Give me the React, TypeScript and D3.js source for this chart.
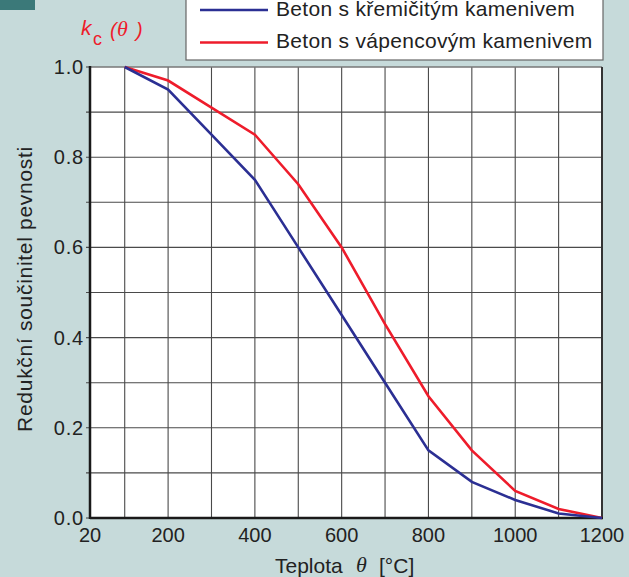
import React from "react";
import * as d3 from "d3";

const temperatures = [100, 200, 300, 400, 500, 600, 700, 800, 900, 1000, 1100, 1200];
const siliceous = [1.0, 0.95, 0.85, 0.75, 0.6, 0.45, 0.3, 0.15, 0.08, 0.04, 0.01, 0.0];
const calcareous = [1.0, 0.97, 0.91, 0.85, 0.74, 0.6, 0.43, 0.27, 0.15, 0.06, 0.02, 0.0];
const xTickLabels = [20, 200, 400, 600, 800, 1000, 1200];
const xGrid = [100, 200, 300, 400, 500, 600, 700, 800, 900, 1000, 1100];
const yTickLabels = [0, 0.2, 0.4, 0.6, 0.8, 1.0];
const yGrid = [0.1, 0.2, 0.3, 0.4, 0.5, 0.6, 0.7, 0.8, 0.9];
const seriesNames = ["Beton s křemičitým kamenivem", "Beton s vápencovým kamenivem"];

const W = 629;
const H = 577;
const left = 90;
const right = 602;
const top = 67;
const bottom = 518;
const BLUE = "#2b2f93";
const RED = "#ee1c2b";
const TEXT = "#222";
const FONT = "'Liberation Sans', Arial, sans-serif";
const SERIF = "'Liberation Serif', 'DejaVu Serif', serif";

export default function App() {
  const x = d3.scaleLinear().domain([20, 1200]).range([left, right]);
  const y = d3.scaleLinear().domain([0, 1]).range([bottom, top]);
  const line = d3
    .line<number>()
    .x((_, i) => x(temperatures[i]))
    .y((d) => y(d));

  return (
    <svg
      width={W}
      height={H}
      style={{ position: "absolute", left: 0, top: 0, display: "block" }}
      fontFamily={FONT}
    >
      <rect x={0} y={0} width={W} height={H} fill="#c6dada" />
      <rect x={0} y={0} width={35} height={10} fill="#3b7979" />

      {/* plot area */}
      <rect x={left} y={top} width={right - left} height={bottom - top} fill="#ffffff" />
      {xGrid.map((v) => (
        <line key={"xg" + v} x1={x(v)} x2={x(v)} y1={top} y2={bottom} stroke="#4a4a4a" strokeWidth={1.1} />
      ))}
      {yGrid.map((v) => (
        <line key={"yg" + v} x1={left - 4} x2={right} y1={y(v)} y2={y(v)} stroke="#4a4a4a" strokeWidth={1.1} />
      ))}
      <line x1={left - 4} x2={left} y1={y(0)} y2={y(0)} stroke="#4a4a4a" strokeWidth={1.1} />
      <line x1={left - 4} x2={left} y1={y(1)} y2={y(1)} stroke="#4a4a4a" strokeWidth={1.1} />

      {/* frame */}
      <line x1={left} x2={right} y1={top} y2={top} stroke="#777" strokeWidth={1.5} />
      <line x1={right} x2={right} y1={top} y2={bottom} stroke="#333" strokeWidth={2} />
      <line x1={left} x2={left} y1={top - 1} y2={bottom + 1} stroke="#1a1a1a" strokeWidth={2.5} />
      <line x1={left} x2={right + 1} y1={bottom} y2={bottom} stroke="#1a1a1a" strokeWidth={2.5} />

      {/* series */}
      <path d={line(calcareous) ?? ""} fill="none" stroke={RED} strokeWidth={2.6} />
      <path d={line(siliceous) ?? ""} fill="none" stroke={BLUE} strokeWidth={2.6} />

      {/* axis labels */}
      {xTickLabels.map((v) => (
        <text key={"xt" + v} x={x(v)} y={542} textAnchor="middle" fontSize={20} fill={TEXT}>
          {v}
        </text>
      ))}
      {yTickLabels.map((v) => (
        <text key={"yt" + v} x={84} y={y(v) + 7} textAnchor="end" fontSize={20} letterSpacing={0.8} fill={TEXT}>
          {v.toFixed(1)}
        </text>
      ))}
      <text x={275} y={573} fontSize={21} fill={TEXT}>
        Teplota
      </text>
      <text x={356} y={572} fontSize={22} fontFamily={SERIF} fontStyle="italic" fill={TEXT}>
        θ
      </text>
      <text x={379} y={573} fontSize={21} fill={TEXT}>
        [°C]
      </text>
      <text
        transform={`translate(32, 289) rotate(-90)`}
        textAnchor="middle"
        fontSize={21}
        letterSpacing={0.7}
        fill={TEXT}
      >
        Redukční součinitel pevnosti
      </text>

      {/* k_c(θ) label */}
      <text x={81} y={35} fontSize={21} fill={RED} fontStyle="italic">
        k
      </text>
      <text x={93} y={45} fontSize={18} fill={RED}>
        c
      </text>
      <text x={110} y={37} fontSize={20} fill={RED} fontStyle="italic">
        (
      </text>
      <text x={117} y={36} fontSize={22} fontFamily={SERIF} fontStyle="italic" fill={RED}>
        θ
      </text>
      <text x={136} y={37} fontSize={20} fill={RED} fontStyle="italic">
        )
      </text>

      {/* legend */}
      <rect x={186} y={-10} width={417} height={70} fill="#ffffff" stroke="#666" strokeWidth={1.2} />
      {seriesNames.map((name, i) => (
        <g key={name} transform={`translate(0, ${10 + i * 32.5})`}>
          <line x1={200} x2={268} y1={0} y2={0} stroke={i === 0 ? BLUE : RED} strokeWidth={2.4} />
          <text x={276} y={5.5} fontSize={21} letterSpacing={0.3} fill={TEXT}>
            {name}
          </text>
        </g>
      ))}
    </svg>
  );
}
